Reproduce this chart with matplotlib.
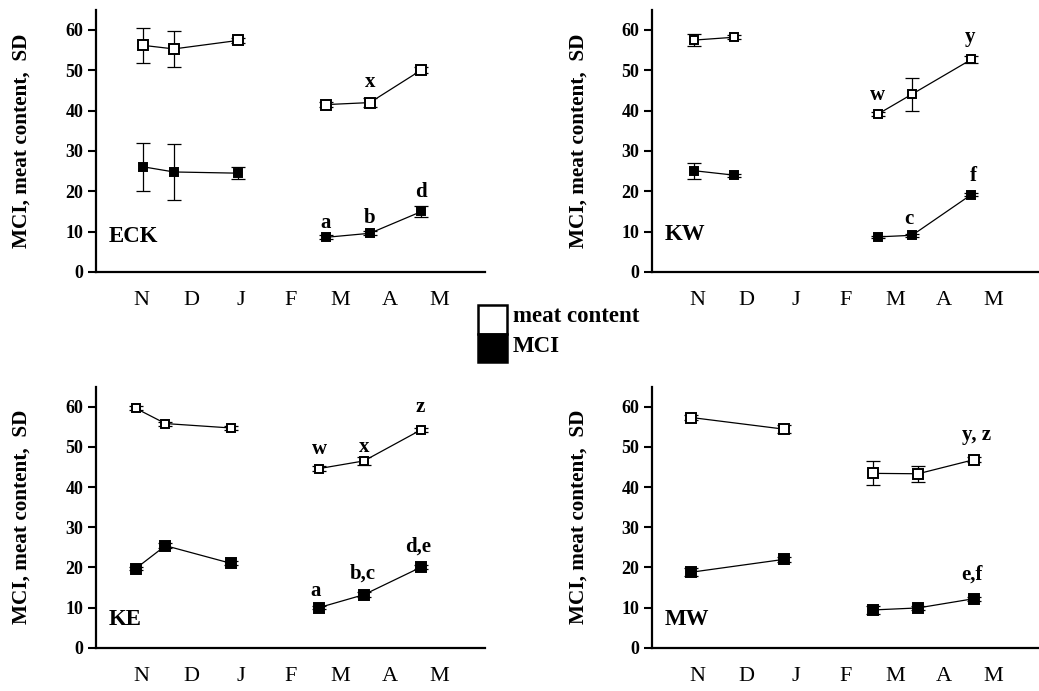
import numpy as np
import matplotlib
matplotlib.use("Agg")
from matplotlib import pyplot as plt
from matplotlib.patches import Rectangle

plt.rcParams["font.family"] = ["Liberation Serif", "DejaVu Serif"]

months = ["N", "D", "J", "F", "M", "A", "M"]

# sampling dates in months after 1 Nov
eck_x = [0.02, 0.65, 1.94, 3.72, 4.6, 5.64]
eck_meat = [56.2, 55.3, 57.4, 41.5, 42.0, 50.1]
eck_meat_sd = [4.3, 4.5, 0.6, 0.6, 1.2, 0.8]
eck_mci = [26.1, 24.8, 24.5, 8.6, 9.6, 15.0]
eck_mci_sd = [6.0, 7.0, 1.5, 0.5, 0.5, 1.3]

kw_x = [-0.06, 0.75, 3.65, 4.35, 5.55]
kw_meat = [57.5, 58.2, 39.1, 44.1, 52.7]
kw_meat_sd = [1.5, 0.5, 0.5, 4.1, 0.8]
kw_mci = [25.1, 24.0, 8.7, 9.1, 19.2]
kw_mci_sd = [2.0, 0.4, 0.3, 0.3, 0.4]

ke_x = [-0.12, 0.48, 1.8, 3.58, 4.48, 5.64]
ke_meat = [59.6, 55.8, 54.7, 44.6, 46.5, 54.3]
ke_meat_sd = [0.5, 0.5, 0.5, 0.6, 1.0, 0.5]
ke_mci = [19.7, 25.4, 21.0, 10.0, 13.2, 20.1]
ke_mci_sd = [0.4, 0.6, 0.5, 0.4, 0.6, 0.4]

mw_x = [-0.12, 1.76, 3.56, 4.47, 5.6]
mw_meat = [57.3, 54.4, 43.4, 43.3, 46.8]
mw_meat_sd = [0.6, 1.0, 3.0, 2.0, 0.6]
mw_mci = [18.8, 22.0, 9.4, 9.9, 12.2]
mw_mci_sd = [1.0, 0.6, 1.0, 0.5, 0.5]

# significance letters: (text, x, baseline y)
eck_letters = [("x", 4.6, 45.8), ("a", 3.7, 10.8), ("b", 4.6, 12.1), ("d", 5.62, 18.5)]
kw_letters = [("w", 3.65, 42.6), ("y", 5.52, 57.1), ("c", 4.28, 11.9), ("f", 5.58, 22.6)]
ke_letters = [("w", 3.58, 48.2), ("x", 4.48, 48.8), ("z", 5.61, 58.8),
              ("a", 3.5, 12.9), ("b,c", 4.45, 17.3), ("d,e", 5.58, 23.9)]
mw_letters = [("y, z", 5.66, 51.7), ("e,f", 5.56, 17.0)]

W, H = 1039, 691
fig = plt.figure(figsize=(W / 100, H / 100), dpi=100)

def px_axes(left, right, y0, ytop):
  return fig.add_axes([left / W, (H - y0) / H, (right - left) / W, (y0 - ytop) / H])

def panel(ax, name, name_y, x, meat, meat_sd, mci, mci_sd, letters, ms_open, ms_fill):
  x = np.array(x)
  for vals, sd, face, ms in [(mci, mci_sd, "black", ms_fill), (meat, meat_sd, "white", ms_open)]:
    vals = np.array(vals)
    for part in [x < 3, x >= 3]:
      ax.plot(x[part], vals[part], color="black", lw=0.9, zorder=2)
    ax.errorbar(x, vals, yerr=sd, fmt="none", ecolor="black", elinewidth=0.9,
                capsize=5, capthick=0.9, zorder=3)
    ax.plot(x, vals, ls="none", marker="s", ms=ms, mfc=face, mec="black", mew=1.4, zorder=4)
  for t, lx, ly in letters:
    ax.text(lx, ly, t, ha="center", va="baseline", fontsize=15, fontweight="bold")
  ax.text(-0.66, name_y, name, ha="left", va="center", fontsize=16.5, fontweight="bold")
  ax.set_xlim(-0.92, 6.92)
  ax.set_ylim(0, 65)
  ax.set_yticks(range(0, 61, 10))
  ax.set_xticks(range(7))
  ax.set_xticklabels(months, fontsize=16)
  ax.tick_params(axis="x", length=0, pad=14)
  ax.tick_params(axis="y", length=6, width=1.5, direction="out", labelsize=13, pad=3)
  for lab in ax.get_yticklabels():
    lab.set_fontweight("bold")
  for s in ["top", "right"]:
    ax.spines[s].set_visible(False)
  for s in ["left", "bottom"]:
    ax.spines[s].set_linewidth(1.6)
  ax.set_ylabel("MCI, meat content,  SD", fontsize=15.3, fontweight="bold")
  ax.yaxis.set_label_coords(-0.165, 0.5)

ax1 = px_axes(96, 485, 272, 9.8)
panel(ax1, "ECK", 8.9, eck_x, eck_meat, eck_meat_sd, eck_mci, eck_mci_sd, eck_letters, 6.8, 5.6)
ax2 = px_axes(652, 1039, 272, 9.8)
panel(ax2, "KW", 9.2, kw_x, kw_meat, kw_meat_sd, kw_mci, kw_mci_sd, kw_letters, 5.8, 5.2)
ax3 = px_axes(96, 485, 647.7, 386.6)
panel(ax3, "KE", 6.9, ke_x, ke_meat, ke_meat_sd, ke_mci, ke_mci_sd, ke_letters, 6.0, 7.0)
ax4 = px_axes(652, 1039, 647.7, 386.6)
panel(ax4, "MW", 7.1, mw_x, mw_meat, mw_meat_sd, mw_mci, mw_mci_sd, mw_letters, 7.6, 6.8)

# legend in the middle of the figure
fig.patches.append(Rectangle((478 / W, (H - 333.5) / H), 29 / W, 28.5 / H, transform=fig.transFigure,
                             facecolor="white", edgecolor="black", lw=1.8))
fig.patches.append(Rectangle((478 / W, (H - 362) / H), 29 / W, 28.5 / H, transform=fig.transFigure,
                             facecolor="black", edgecolor="black", lw=1.8))
fig.text(513 / W, (H - 316) / H, "meat content", ha="left", va="center", fontsize=16.5, fontweight="bold")
fig.text(513 / W, (H - 347) / H, "MCI", ha="left", va="center", fontsize=16.5, fontweight="bold")

fig.savefig("out.png", dpi=100)
